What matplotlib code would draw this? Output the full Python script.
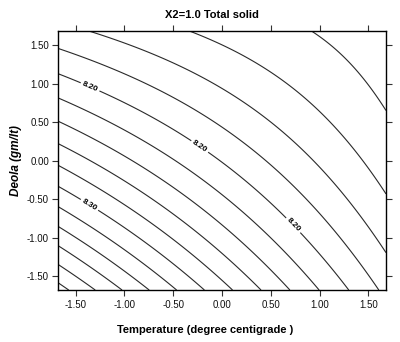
import numpy as np
import matplotlib
matplotlib.use("Agg")
import matplotlib.pyplot as plt

# Fitted response-surface coefficients (coded units)
intercept = 8.199
coef_linear = [-0.0431, -0.0456]        # x1 (temperature), x3 (Deola)
coef_quad = [0.0015, 0.0042]            # x1^2, x3^2
coef_inter = 0.0156                     # x1*x3
levels = [8.12, 8.14, 8.16, 8.18, 8.20, 8.22, 8.24, 8.26, 8.28,
          8.30, 8.32, 8.34, 8.36, 8.38, 8.40]
labelled_levels = [8.20, 8.30]
xticks = [-1.5, -1.0, -0.5, 0.0, 0.5, 1.0, 1.5]
yticks = [-1.5, -1.0, -0.5, 0.0, 0.5, 1.0, 1.5]
lim = 1.68

plt.rcParams['font.family'] = ['Liberation Sans', 'DejaVu Sans']

fig = plt.figure(figsize=(4.0, 3.42), dpi=100)
ax = fig.add_axes([0.145, 0.152, 0.82, 0.757])

g = np.linspace(-lim, lim, 200)
X, Y = np.meshgrid(g, g)
Z = (intercept + coef_linear[0] * X + coef_linear[1] * Y
     + coef_quad[0] * X ** 2 + coef_quad[1] * Y ** 2 + coef_inter * X * Y)

plain = [v for v in levels if all(abs(v - w) > 1e-9 for w in labelled_levels)]
ax.contour(X, Y, Z, levels=plain, colors='#2a2a2a', linewidths=0.8)
cs = ax.contour(X, Y, Z, levels=labelled_levels, colors='#2a2a2a', linewidths=0.8)
lab_pos = [(-1.35, 0.96), (-0.23, 0.18), (0.73, -0.84), (-1.36, -0.58)]
ax.clabel(cs, manual=lab_pos, fmt='%.2f', fontsize=6, inline=True,
          inline_spacing=2, colors='black')
for t in cs.labelTexts:
    t.set_fontweight('bold')

ax.set_xlim(-lim, lim)
ax.set_ylim(-lim, lim)
ax.set_xticks(xticks)
ax.set_yticks(yticks)
ax.set_xticklabels([f"{v:.2f}" for v in xticks])
ax.set_yticklabels([f"{v:.2f}" for v in yticks])
ax.tick_params(direction='out', length=4.5, width=0.8, labelsize=7, pad=2,
               top=True, right=True, labeltop=False, labelright=False,
               colors='#333333', labelcolor='#111111')
ax.tick_params(axis='x', pad=3)
for s in ax.spines.values():
    s.set_linewidth(1.0)
    s.set_color('black')

fig.text(212 / 400, 1 - 15 / 342, "X2=1.0 Total solid", ha='center',
         va='center', fontsize=8, fontweight='bold')
fig.text(205 / 400, 1 - 330 / 342, "Temperature (degree centigrade )",
         ha='center', va='center', fontsize=8, fontweight='bold')
fig.text(16 / 400, 1 - 161 / 342, "Deola (gm/lt)", ha='center', va='center',
         rotation=90, fontsize=8.5, fontweight='bold', fontstyle='italic')

fig.savefig("out.png", dpi=100)
